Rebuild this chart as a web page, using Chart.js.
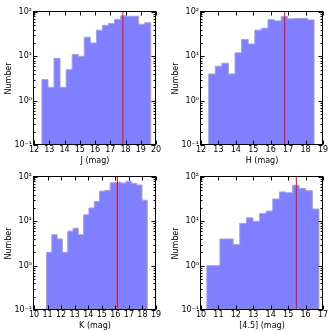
<!DOCTYPE html>
<html>
<head>
<meta charset="utf-8">
<script src="https://cdn.jsdelivr.net/npm/chart.js@4.4.1/dist/chart.umd.min.js"></script>
<style>
  body { margin: 0; background: #fff; }
  .cell { position: absolute; }
</style>
</head>
<body>
<div class="cell" style="left:0;top:0"><canvas id="c0" width="167" height="166"></canvas></div>
<div class="cell" style="left:167px;top:0"><canvas id="c1" width="167" height="166"></canvas></div>
<div class="cell" style="left:0;top:165px"><canvas id="c2" width="167" height="166"></canvas></div>
<div class="cell" style="left:167px;top:165px"><canvas id="c3" width="167" height="166"></canvas></div>
<script>
// bands and axis ranges
const bands = ['J', 'H', 'K', '[4.5]'];
const xMin = [12, 12, 10, 10];
const xMax = [20, 19, 19, 17];

// histogram range (first / last bin edge) and the red marker
const binLo = [12.52, 12.44, 10.92, 10.33];
const binHi = [19.66, 18.49, 18.36, 16.77];
const medians = [17.83, 16.8, 16.15, 15.47];

// counts per bin
const jCounts = [3, 2, 9, 2, 5, 11, 10, 27, 20, 39, 50, 55, 68, 82, 80, 80, 53, 57];
const hCounts = [4, 6, 7, 4, 12, 24, 19, 39, 43, 67, 63, 79, 70, 71, 72, 66];
const kCounts = [2, 5, 4, 2, 6, 7, 5, 14, 20, 28, 48, 50, 74, 77, 73, 80, 72, 66, 30];
const i45Counts = [1, 1, 4, 4, 3, 9, 12, 10, 15, 17, 32, 46, 44, 65, 55, 49, 19];
const counts = [jCounts, hCounts, kCounts, i45Counts];

// log y axis
const yTicks = [0.1, 1, 10, 100];
const yTickLabels = ['10⁻¹', '10⁰', '10¹', '10²'];

Chart.defaults.font.family = '"DejaVu Sans", sans-serif';
Chart.defaults.font.size = 8;
Chart.defaults.color = '#000';

// stepfilled outline, dropping to below the axis at both ends
function stepData(lo, hi, c) {
  const w = (hi - lo) / c.length;
  const pts = [{ x: lo, y: 0.01 }];
  c.forEach((v, i) => pts.push({ x: lo + i * w, y: v }));
  pts.push({ x: hi, y: c[c.length - 1] });
  pts.push({ x: hi, y: 0.01 });
  return pts;
}

// black box with inward ticks on all four sides (matplotlib classic look)
const framePlugin = {
  id: 'frame',
  afterDatasetsDraw(chart) {
    const { ctx, chartArea: a, scales: { x, y } } = chart;
    const L = Math.round(a.left) - 0.5, R = Math.round(a.right) - 0.5;
    const T = Math.round(a.top) - 0.5, B = Math.round(a.bottom) - 0.5;
    ctx.save();
    ctx.strokeStyle = '#000';
    ctx.lineWidth = 1;
    ctx.beginPath();
    x.ticks.forEach(t => {
      const px = Math.round(x.getPixelForValue(t.value)) + 0.5;
      ctx.moveTo(px, B); ctx.lineTo(px, B - 4);
      ctx.moveTo(px, T); ctx.lineTo(px, T + 4);
    });
    for (let e = -1; e <= 2; e++) {
      for (let k = 1; k <= 9; k++) {
        const v = k * Math.pow(10, e);
        if (v > 100) break;
        const py = Math.round(y.getPixelForValue(v)) + 0.5;
        const len = k === 1 ? 4 : 2;
        ctx.moveTo(L, py); ctx.lineTo(L + len, py);
        ctx.moveTo(R, py); ctx.lineTo(R - len, py);
      }
    }
    ctx.stroke();
    ctx.strokeRect(L, T, R - L, B - T);
    ctx.restore();
  }
};

bands.forEach((band, i) => {
  new Chart(document.getElementById('c' + i), {
    type: 'line',
    data: {
      datasets: [
        {
          data: [{ x: medians[i], y: 0.1 }, { x: medians[i], y: 100 }],
          borderColor: '#ff0000',
          borderWidth: 1,
          pointRadius: 0,
          fill: false
        },
        {
          data: stepData(binLo[i], binHi[i], counts[i]),
          stepped: true,
          fill: 'start',
          backgroundColor: 'rgba(0, 0, 255, 0.5)',
          borderColor: '#a8a8b0',
          borderWidth: 1,
          pointRadius: 0
        }
      ]
    },
    options: {
      responsive: false,
      animation: false,
      devicePixelRatio: 1,
      layout: { padding: { left: 0, top: 12, right: 11, bottom: 0 } },
      plugins: { legend: { display: false }, tooltip: { enabled: false } },
      scales: {
        x: {
          type: 'linear',
          min: xMin[i],
          max: xMax[i],
          grid: { display: false, drawTicks: false },
          border: { display: false },
          ticks: { stepSize: 1, padding: 0, maxRotation: 0, autoSkip: false },
          afterFit: s => { s.height = 21; },
          title: { display: true, text: band + ' (mag)', padding: { top: 0, bottom: 0 } }
        },
        y: {
          type: 'logarithmic',
          min: 0.1,
          max: 100,
          grid: { display: false, drawTicks: false },
          border: { display: false },
          afterBuildTicks: s => { s.ticks = yTicks.map(v => ({ value: v, major: true })); },
          ticks: { autoSkip: false, padding: 2, callback: (v, idx) => yTickLabels[idx] },
          afterFit: s => { s.width = 34; },
          title: { display: true, text: 'Number', padding: { top: 4, bottom: 0 } }
        }
      }
    },
    plugins: [framePlugin]
  });
});
</script>
</body>
</html>
